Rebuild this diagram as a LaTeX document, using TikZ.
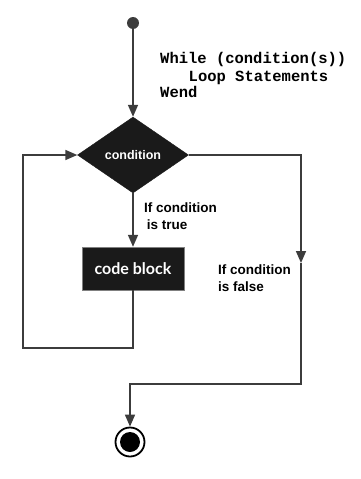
\documentclass[tikz,border=0pt]{standalone}
\usepackage{fontspec}
\setmainfont{Liberation Serif}
\newfontfamily\codefont{Liberation Mono}
\newfontfamily\labelfont{Liberation Sans}
\newfontfamily\blockfont{Lato}
\definecolor{LineGray}{HTML}{3C3C3C}
\definecolor{BoxBlack}{HTML}{1A1A1A}
\usetikzlibrary{arrows.meta, positioning, shapes.geometric}

\begin{document}
\begin{tikzpicture}[
  x=1pt, y=-1pt,
  flow/.style={draw=LineGray, line width=1.6pt},
  arrowflow/.style={flow, -{Triangle[length=12pt, width=10pt]}},
  decision/.style={diamond, fill=BoxBlack, draw=BoxBlack, minimum width=111pt, minimum height=76pt, inner sep=0pt, text=white, font=\labelfont\bfseries\fontsize{12.5}{15}\selectfont},
  codebox/.style={rectangle, fill=BoxBlack, draw=gray, minimum width=102pt, minimum height=43pt, text=white, font=\blockfont\bfseries\fontsize{16}{18}\selectfont},
  caption/.style={align=left, anchor=north west, inner sep=0pt, font=\labelfont\bfseries\fontsize{13.5}{17}\selectfont},
  pseudo/.style={anchor=base west, inner sep=0pt, font=\codefont\bfseries\fontsize{15.5}{17}\selectfont}
]
  \useasboundingbox (0,0) rectangle (361,479);

  % nodes
  \node[circle, fill=LineGray, minimum size=12pt, inner sep=0pt] (start) at (133,23) {};
  \node[decision] (cond) at (133,155) {condition};
  \node[codebox] (code) at (133,268.5) {code block};
  \node[circle, draw=black, line width=1.8pt, minimum size=29pt, inner sep=0pt] (stop) at (130,442) {};
  \node[circle, fill=black, minimum size=20pt, inner sep=0pt] (stopdot) at (stop) {};

  % pseudo code
  \node[pseudo] (while) at (160,63) {While (condition(s))};
  \node[pseudo] (body) at (188.5,81) {Loop Statements};
  \node[pseudo] (wend) at (160,97) {Wend};

  % corners
  \coordinate (loopcorner) at (23,348);
  \coordinate (falsetip) at (301,263);
  \coordinate (exitcorner) at (301,384);

  % connectors
  \draw[arrowflow] (start) -- (cond.north);
  \draw[arrowflow] (cond.south) -- (code.north);
  \draw[arrowflow] (code.south) |- (loopcorner) |- (cond.west);
  \draw[arrowflow] (cond.east) -| (falsetip);
  \draw[arrowflow] (falsetip) -- (exitcorner) -| (stop.north);

  % labels
  \node[caption] (truelabel) at (144,203) {If condition\\\hspace*{0.2em}is true};
  \node[caption] (falselabel) at (218,265) {If condition\\is false};
\end{tikzpicture}
\end{document}
